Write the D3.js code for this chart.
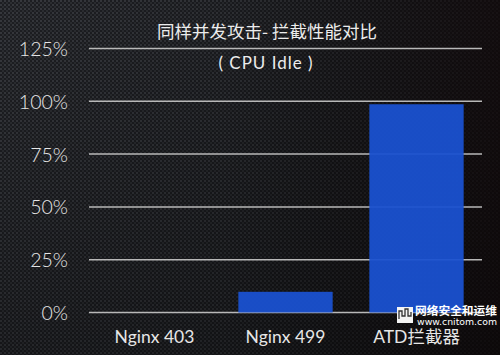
<!DOCTYPE html>
<html>
<head>
<meta charset="utf-8">
<script src="https://cdn.jsdelivr.net/npm/d3@7"></script>
<style>
  html, body { margin: 0; padding: 0; background: #1a1a1d; }
  svg { display: block; }
  text { font-family: "Noto Sans CJK SC", "Open Sans", sans-serif; }
</style>
</head>
<body>
<script>
// chart data
var categories = ["Nginx 403", "Nginx 499", "ATD拦截器"];
var idleValues = [0, 9.8, 98.6];
var tickValues = [0, 25, 50, 75, 100, 125];
var titleText = "同样并发攻击- 拦截性能对比";
var subTitle = "( CPU Idle )";

var width = 500, height = 355;

var svg = d3.select("body").append("svg")
    .attr("width", width)
    .attr("height", height);

var defs = svg.append("defs");

// carbon fibre look
var pat = defs.append("pattern")
    .attr("id", "carbon")
    .attr("width", 4).attr("height", 4)
    .attr("patternUnits", "userSpaceOnUse");
pat.append("rect").attr("width", 4).attr("height", 4).attr("fill", "#1d1e22");
pat.append("rect").attr("width", 2).attr("height", 2).attr("fill", "#36383d");
pat.append("rect").attr("x", 2).attr("y", 2).attr("width", 2).attr("height", 2).attr("fill", "#2c2e32");

var shade = defs.append("linearGradient")
    .attr("id", "shade")
    .attr("x1", "0%").attr("x2", "100%").attr("y1", "0%").attr("y2", "0%");
shade.append("stop").attr("offset", "0%").attr("stop-color", "#000").attr("stop-opacity", 0.0);
shade.append("stop").attr("offset", "45%").attr("stop-color", "#000").attr("stop-opacity", 0.15);
shade.append("stop").attr("offset", "100%").attr("stop-color", "#0d0506").attr("stop-opacity", 0.75);

var shadeV = defs.append("linearGradient")
    .attr("id", "shadeV")
    .attr("x1", "0%").attr("x2", "0%").attr("y1", "0%").attr("y2", "100%");
shadeV.append("stop").attr("offset", "0%").attr("stop-color", "#000").attr("stop-opacity", 0.0);
shadeV.append("stop").attr("offset", "100%").attr("stop-color", "#000").attr("stop-opacity", 0.3);

svg.append("rect").attr("width", width).attr("height", height).attr("fill", "url(#carbon)");
svg.append("rect").attr("width", width).attr("height", height).attr("fill", "url(#shade)");
svg.append("rect").attr("width", width).attr("height", height).attr("fill", "url(#shadeV)");

// scales
var x = d3.scaleBand()
    .domain(categories)
    .range([89, 482])
    .paddingInner(0.28)
    .paddingOuter(0.14);

var y = d3.scaleLinear()
    .domain([0, 125])
    .range([312.5, 48.5]);

// gridlines
svg.append("g")
    .selectAll("line")
    .data(tickValues)
    .join("line")
    .attr("x1", 89)
    .attr("x2", 482)
    .attr("y1", function (d) { return y(d); })
    .attr("y2", function (d) { return y(d); })
    .attr("stroke", "#b8b8b8")
    .attr("stroke-width", 1.5);

// bars
svg.append("g")
    .selectAll("rect")
    .data(idleValues)
    .join("rect")
    .attr("x", function (d, i) { return x(categories[i]); })
    .attr("width", x.bandwidth())
    .attr("y", function (d) { return y(d); })
    .attr("height", function (d) { return y(0) - y(d); })
    .attr("fill", "#1a51d0")
    .attr("fill-opacity", 0.95);

// y axis labels
var yAxis = d3.axisLeft(y)
    .tickValues(tickValues)
    .tickFormat(function (d) { return d + "%"; })
    .tickSize(0)
    .tickPadding(0);

var yg = svg.append("g")
    .attr("transform", "translate(68,0)")
    .call(yAxis);
yg.select(".domain").remove();
yg.selectAll("text")
    .attr("fill", "#e6e6e6")
    .attr("font-size", 19.5)
    .attr("font-weight", 300)
    .attr("dy", "0.36em")
    .style("font-family", "Lato, 'Open Sans', sans-serif");

// x axis labels
var xAxis = d3.axisBottom(x).tickSize(0).tickPadding(0);
var xg = svg.append("g")
    .attr("transform", "translate(0,337)")
    .call(xAxis);
xg.select(".domain").remove();
xg.selectAll("text")
    .attr("fill", "#e6e6e6")
    .attr("font-size", 17.5)
    .attr("dy", "0.36em")
    .style("font-family", "Lato, 'Noto Sans CJK SC', sans-serif");

// title
svg.append("text")
    .attr("x", 267)
    .attr("y", 32)
    .attr("dy", "0.36em")
    .attr("text-anchor", "middle")
    .attr("fill", "#ececec")
    .attr("font-size", 17.5)
    .text(titleText);

svg.append("text")
    .attr("x", 266)
    .attr("y", 63)
    .attr("dy", "0.36em")
    .attr("text-anchor", "middle")
    .attr("fill", "#ececec")
    .attr("font-size", 17)
    .attr("letter-spacing", 1)
    .style("font-family", "Lato, 'Open Sans', sans-serif")
    .text(subTitle);

// watermark bottom right
var wm = svg.append("g");
wm.append("rect")
    .attr("x", 397).attr("y", 307)
    .attr("width", 16).attr("height", 16)
    .attr("fill", "#f4f4f4");
wm.append("path")
    .attr("d", "M399,319 L399,311 L402,311 L402,316 L405,316 L405,309 L408,309 L408,316 L411,316 L411,312")
    .attr("fill", "none")
    .attr("stroke", "#333")
    .attr("stroke-width", 1.3);
wm.append("text")
    .attr("x", 415).attr("y", 311)
    .attr("dy", "0.36em")
    .attr("fill", "#ffffff")
    .attr("font-size", 11)
    .attr("font-weight", "bold")
    .attr("textLength", 82)
    .attr("lengthAdjust", "spacingAndGlyphs")
    .text("网络安全和运维");
wm.append("text")
    .attr("x", 417).attr("y", 322.5)
    .attr("dy", "0.36em")
    .attr("fill", "#ffffff")
    .attr("font-size", 8)
    .attr("textLength", 80)
    .attr("lengthAdjust", "spacingAndGlyphs")
    .style("font-family", "'DejaVu Sans', sans-serif")
    .text("www.cnitom.com");
</script>
</body>
</html>
